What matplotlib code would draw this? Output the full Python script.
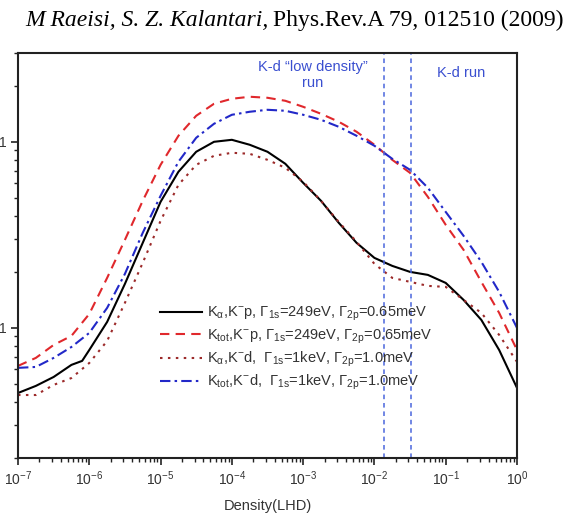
import matplotlib
matplotlib.use('Agg')
import matplotlib.pyplot as plt
from matplotlib.ticker import LogLocator, FixedLocator, FixedFormatter, NullFormatter

plt.rcParams['font.family'] = ['Liberation Sans', 'DejaVu Sans']
plt.rcParams['mathtext.fontset'] = 'custom'
plt.rcParams['mathtext.rm'] = 'Liberation Sans'
plt.rcParams['mathtext.it'] = 'Liberation Sans:italic'
plt.rcParams['mathtext.default'] = 'regular'

# ---------------- data ----------------
density = [1.0e-7, 1.78e-7, 3.16e-7, 5.62e-7, 1.0e-6, 1.78e-6, 3.16e-6, 5.62e-6,
           1.0e-5, 1.78e-5, 3.16e-5, 5.62e-5, 1.0e-4, 1.78e-4, 3.16e-4, 5.62e-4,
           1.0e-3, 1.78e-3, 3.16e-3, 5.62e-3, 1.0e-2, 1.78e-2, 3.16e-2, 5.62e-2,
           0.1, 0.178, 0.316, 0.562, 1.0]
density_black = [1.0e-7, 1.78e-7, 3.16e-7, 5.62e-7, 7.94e-7, 1.0e-6, 1.78e-6, 3.16e-6, 5.62e-6,
                 1.0e-5, 1.78e-5, 3.16e-5, 5.62e-5, 1.0e-4, 1.78e-4, 3.16e-4, 5.62e-4,
                 1.0e-3, 1.78e-3, 3.16e-3, 5.62e-3, 1.0e-2, 1.78e-2, 3.16e-2, 5.62e-2,
                 0.1, 0.178, 0.316, 0.562, 1.0]
ka_kp = [0.0447, 0.0488, 0.0545, 0.0633, 0.0665, 0.0761, 0.1077, 0.1724, 0.2864, 0.4758,
         0.690, 0.884, 1.0, 1.025, 0.964, 0.884, 0.762, 0.602, 0.482, 0.367,
         0.2864, 0.2378, 0.2154, 0.2000, 0.1927, 0.1745, 0.1414, 0.1104, 0.0761, 0.0476]
ktot_kp = [0.0625, 0.0690, 0.0810, 0.0906, 0.1189, 0.1857, 0.2972, 0.482, 0.752, 1.077,
           1.380, 1.601, 1.703, 1.746, 1.724, 1.661, 1.542, 1.414, 1.281, 1.132,
           0.964, 0.800, 0.681, 0.506, 0.358, 0.2627, 0.1768, 0.1204, 0.0761]
ka_kd = [0.0436, 0.0436, 0.0494, 0.0538, 0.0648, 0.0851, 0.1363, 0.2237, 0.376, 0.587,
         0.752, 0.841, 0.873, 0.862, 0.800, 0.725, 0.610, 0.482, 0.371, 0.290,
         0.2208, 0.1857, 0.1768, 0.1682, 0.1661, 0.1414, 0.1204, 0.0917, 0.0657]
ktot_kd = [0.0610, 0.0617, 0.0690, 0.0790, 0.0940, 0.1281, 0.1951, 0.3242, 0.5125, 0.781,
           1.051, 1.250, 1.397, 1.450, 1.486, 1.468, 1.397, 1.313, 1.204, 1.077,
           0.952, 0.810, 0.707, 0.566, 0.420, 0.3124, 0.2264, 0.1562, 0.100]
run_bounds = [0.0136, 0.0325]
labels = [r"K$_{\alpha}$,K$^{-}$p, Γ$_{1s}$=249eV, Γ$_{2p}$=0.65meV",
          r"K$_{tot}$,K$^{-}$p, Γ$_{1s}$=249eV, Γ$_{2p}$=0.65meV",
          r"K$_{\alpha}$,K$^{-}$d,  Γ$_{1s}$=1keV, Γ$_{2p}$=1.0meV",
          r"K$_{tot}$,K$^{-}$d,  Γ$_{1s}$=1keV, Γ$_{2p}$=1.0meV"]
xtick_vals = [1e-7, 1e-6, 1e-5, 1e-4, 1e-3, 1e-2, 1e-1, 1e0]
xtick_labels = [r"10$^{-7}$", r"10$^{-6}$", r"10$^{-5}$", r"10$^{-4}$", r"10$^{-3}$",
                r"10$^{-2}$", r"10$^{-1}$", r"10$^{0}$"]
ytick_vals = [0.1, 1.0]
ytick_labels = ["1", "1"]

# ---------------- figure ----------------
W, H = 576, 527
fig = plt.figure(figsize=(W / 100, H / 100), dpi=100)
ax = fig.add_axes([18 / W, 1 - 458 / H, (517 - 18) / W, (458 - 53) / H])

lw = 1.5
ax.plot(density_black, ka_kp, color='black', lw=lw, ls='-', label=labels[0])
ax.plot(density, ktot_kp, color='#e0282c', lw=lw, ls=(0, (4.5, 3)), label=labels[1])
ax.plot(density, ka_kd, color='#9c2a2a', lw=lw, ls=(0, (1.2, 2.6)), label=labels[2])
ax.plot(density, ktot_kd, color='#2228c8', lw=lw, ls=(0, (5, 2, 1.2, 2)), label=labels[3])

for b in run_bounds:
    ax.axvline(b, color='#4a66dd', lw=1.1, ls=(0, (3, 2.5)))

ax.set_xscale('log')
ax.set_yscale('log')
ax.set_xlim(1e-7, 1.0)
ax.set_ylim(0.02, 3.0)

ax.xaxis.set_major_locator(FixedLocator(xtick_vals))
ax.xaxis.set_major_formatter(FixedFormatter(xtick_labels))
ax.xaxis.set_minor_locator(LogLocator(base=10, subs=range(2, 10), numticks=20))
ax.xaxis.set_minor_formatter(NullFormatter())
ax.yaxis.set_major_locator(FixedLocator(ytick_vals))
ax.yaxis.set_major_formatter(FixedFormatter(ytick_labels))
ax.yaxis.set_minor_locator(LogLocator(base=10, subs=range(2, 10), numticks=20))
ax.yaxis.set_minor_formatter(NullFormatter())

ax.tick_params(which='major', direction='out', length=5, width=1.2, colors='#222222',
               labelcolor='#333333', labelsize=10, pad=3)
ax.tick_params(which='minor', direction='out', length=3, width=1.0, colors='#222222')
for s in ax.spines.values():
    s.set_linewidth(1.5)
    s.set_color('#222222')

ax.set_xlabel("Density(LHD)", fontsize=10.5, color='#333333', labelpad=8)

fig.text(313 / W, 1 - 75 / H, "K-d \u201clow density\u201d\nrun", fontsize=10.5,
         color='#3a4fd0', ha='center', va='center', linespacing=1.1)
fig.text(461 / W, 1 - 73 / H, "K-d run", fontsize=10.5, color='#3a4fd0',
         ha='center', va='center')

leg = fig.legend(loc='upper left', bbox_to_anchor=(160 / W, 1 - 305 / H), frameon=False,
                 fontsize=10.5, handlelength=2.9, handletextpad=0.3, labelspacing=0.28,
                 borderpad=0, borderaxespad=0)
for t in leg.get_texts():
    t.set_color('#333333')

t1 = fig.text(25 / W, 1 - 20 / H, "M Raeisi, S. Z. Kalantari,", fontsize=17,
              family='Liberation Serif', style='italic', va='center', ha='left')
fig.canvas.draw()
bb = t1.get_window_extent()
fig.text((bb.x1 + 5) / W, 1 - 20 / H, "Phys.Rev.A 79, 012510 (2009)", fontsize=17,
         family='Liberation Serif', va='center', ha='left')

fig.savefig('out.png', dpi=100)
